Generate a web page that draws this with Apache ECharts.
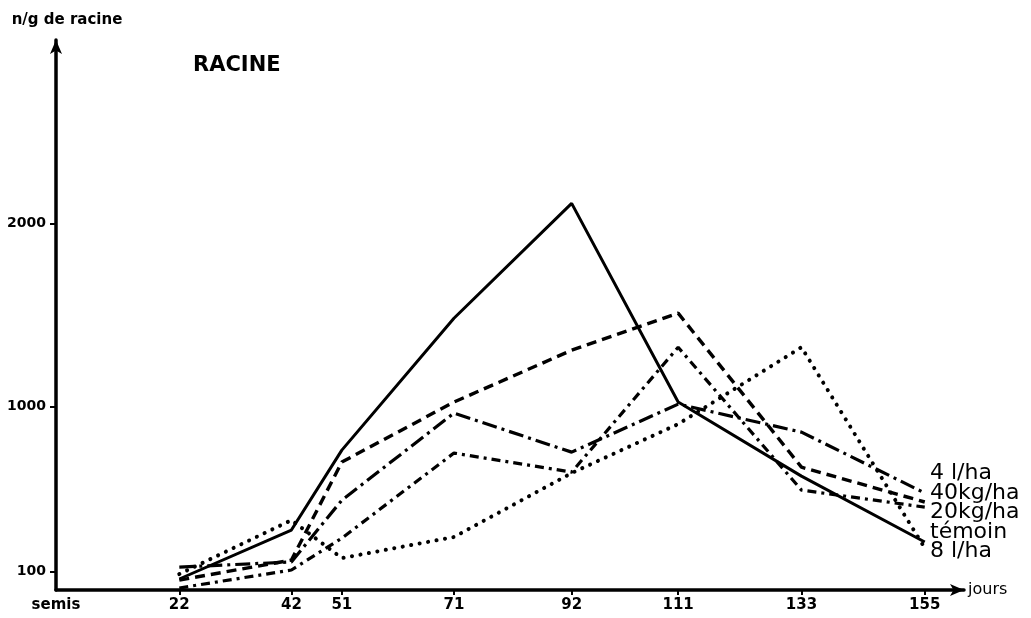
<!DOCTYPE html>
<html>
<head>
<meta charset="utf-8">
<script src="https://cdn.jsdelivr.net/npm/echarts@6/dist/echarts.min.js"></script>
<style>html,body{margin:0;padding:0;background:#fff}#c{width:1031px;height:618px}</style>
</head>
<body>
<div id="c"></div>
<script>
// ---- data ----
const days = [22, 42, 51, 71, 92, 111, 133, 155];
const xTickDays = [0, 22, 42, 51, 71, 92, 111, 133, 155];
const yTickValues = [100, 1000, 2000];
const seriesNames = ['4 l/ha', '40kg/ha', '20kg/ha', 'témoin', '8 l/ha'];
const l4   = [125, 153, 490, 965, 752, 1014, 861, 529];
const kg40 = [54, 163, 698, 1025, 1308, 1510, 670, 480];
const kg20 = [11, 109, 283, 747, 643, 1324, 545, 452];
const temoin = [60, 327, 763, 1482, 2109, 1025, 621, 262];
const l8   = [87, 381, 174, 289, 638, 905, 1324, 229];

const values = [l4, kg40, kg20, temoin, l8];
const styles = [
  {type: [15, 5, 3, 5], width: 3.2},
  {type: [10, 6], width: 3.4},
  {type: [9, 5, 3, 5], width: 3.2},
  {type: 'solid', width: 3},
  {type: [0.1, 8.5], width: 4, cap: 'round'}
];
const labelY = [474, 494, 513, 533, 552];

const chart = echarts.init(document.getElementById('c'), null, {renderer: 'canvas'});
const series = values.map((v, i) => ({
  name: seriesNames[i],
  type: 'line',
  data: days.map((d, j) => [d, v[j]]),
  showSymbol: false,
  symbol: 'none',
  lineStyle: Object.assign({color: '#000'}, styles[i]),
  z: 5
}));

chart.setOption({
  animation: false,
  backgroundColor: '#fff',
  grid: {left: 56, right: 67, top: 40, bottom: 28, containLabel: false},
  title: {
    text: 'RACINE', left: 188, top: 50,
    textStyle: {fontFamily: 'DejaVu Sans', fontWeight: 'bold', fontSize: 21, color: '#000'}
  },
  xAxis: {
    type: 'value', min: 0, max: 162,
    name: 'jours', nameLocation: 'end', nameGap: 4,
    nameTextStyle: {fontFamily: 'DejaVu Sans', fontSize: 16, color: '#000', padding: [0, 0, 30, 0]},
    axisLine: {lineStyle: {color: '#000', width: 3.5}, symbol: ['none', 'arrow'], symbolSize: [9, 14]},
    axisTick: {show: true, customValues: xTickDays.slice(1), length: 5, lineStyle: {color: '#000', width: 2}},
    axisLabel: {
      customValues: xTickDays, margin: 8,
      fontFamily: 'DejaVu Sans', fontWeight: 'bold', fontSize: 15, color: '#000',
      formatter: v => v === 0 ? 'semis' : String(v)
    },
    splitLine: {show: false}
  },
  yAxis: {
    type: 'value', min: 0, max: 3000,
    name: 'n/g de racine', nameLocation: 'end', nameGap: 12,
    nameTextStyle: {fontFamily: 'DejaVu Sans', fontWeight: 'bold', fontSize: 15, color: '#000', align: 'center', padding: [0, 0, 0, 22]},
    axisLine: {onZero: true, lineStyle: {color: '#000', width: 3.5}, symbol: ['none', 'arrow'], symbolSize: [9, 14]},
    axisTick: {show: true, customValues: yTickValues, length: 6, lineStyle: {color: '#000', width: 2}},
    axisLabel: {
      customValues: yTickValues, margin: 10,
      fontFamily: 'DejaVu Sans', fontWeight: 'bold', fontSize: 14, color: '#000',
      formatter: v => String(v)
    },
    splitLine: {show: false}
  },
  graphic: seriesNames.map((n, i) => ({
    type: 'text', left: 930, top: labelY[i] - 12,
    style: {text: n, fontFamily: 'DejaVu Sans', fontSize: 22, fill: '#000'}
  })),
  series: series
});
</script>
</body>
</html>
